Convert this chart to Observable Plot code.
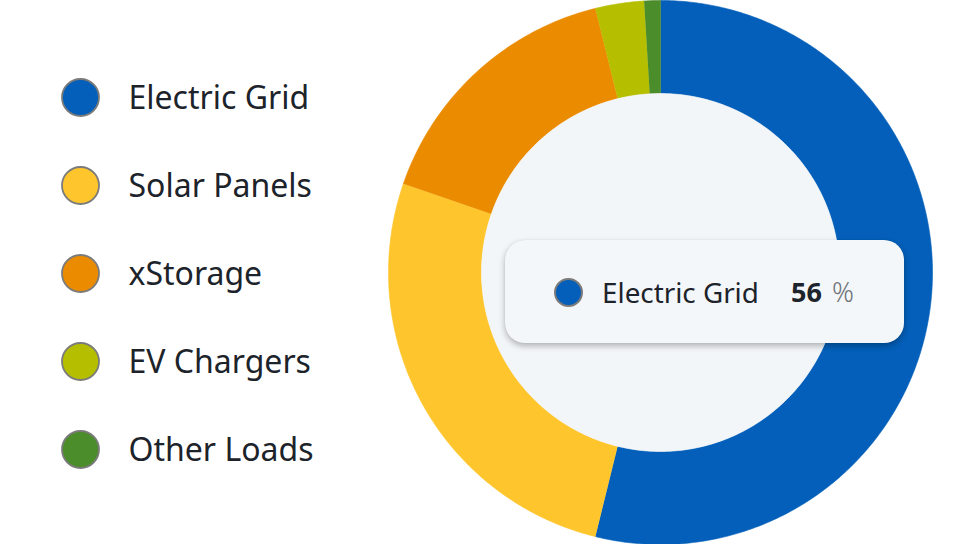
<!DOCTYPE html>
<html>
<head>
<meta charset="utf-8">
<script src="https://cdn.jsdelivr.net/npm/d3@7"></script>
<script src="https://cdn.jsdelivr.net/npm/@observablehq/plot@0.6"></script>
<style>
  html, body { margin: 0; padding: 0; background: #ffffff; }
  body { width: 980px; height: 544px; overflow: hidden; font-family: "Noto Sans", sans-serif; }
  #wrap { position: relative; width: 980px; height: 544px; display: flex; }
  #tip {
    position: absolute; left: 505px; top: 240px; width: 399px; height: 103px;
    box-sizing: border-box; border-radius: 20px; background: #f4f7fa;
    box-shadow: 0 3px 6px rgba(0,0,0,0.28), 0 0 1px rgba(0,0,0,0.12);
    display: flex; align-items: center; font-family: "Noto Sans", sans-serif;
  }
  #tip .dot { width: 29px; height: 29px; border-radius: 50%; border: 2px solid #7b7b7b; box-sizing: border-box; margin-left: 49px; margin-right: 19px; margin-top: 1px; }
  #tip .name { font-size: 27.8px; color: #1d232a; width: 189px; }
  #tip .val { font-size: 27px; font-weight: 700; color: #1d232a; }
  #tip .unit { font-size: 27px; font-weight: 300; color: #6f7377; margin-left: 10px; }
</style>
</head>
<body>
<div id="wrap"></div>
<script>
// ---- data ----
const categories = ["Electric Grid", "Solar Panels", "xStorage", "EV Chargers", "Other Loads"];
const values = [56, 27.5, 16.5, 3, 1];
const colors = ["#035fb9", "#fec52c", "#eb8b00", "#b5bf00", "#4b8c2b"];
const tooltipCategory = "Electric Grid";
const tooltipValue = 56;
const tooltipUnit = "%";

const innerRatio = 0.658;

const rows = categories.map((c, i) => ({category: c, value: values[i]}));
const pie = d3.pie().value(d => d.value).sort(null)(rows);

// annular sector outlines in unit coordinates (angle 0 at top, clockwise)
const ringPts = [];
for (const p of pie) {
  const n = Math.max(8, Math.ceil((p.endAngle - p.startAngle) / 0.01));
  const pts = [];
  for (let k = 0; k <= n; k++) {
    const a = p.startAngle + (p.endAngle - p.startAngle) * k / n;
    pts.push({category: p.data.category, x: Math.sin(a), y: Math.cos(a)});
  }
  for (let k = n; k >= 0; k--) {
    const a = p.startAngle + (p.endAngle - p.startAngle) * k / n;
    pts.push({category: p.data.category, x: innerRatio * Math.sin(a), y: innerRatio * Math.cos(a)});
  }
  ringPts.push(...pts);
}
const holePts = d3.range(0, 361).map(k => {
  const a = k * Math.PI / 180;
  return {x: innerRatio * Math.sin(a), y: innerRatio * Math.cos(a)};
});

const colorScale = {domain: categories, range: colors};

// ---- legend plot ----
const legend = Plot.plot({
  width: 388, height: 544, margin: 0,
  x: {axis: null, domain: [0, 1]},
  y: {axis: null, type: "point", domain: categories, range: [97, 449], padding: 0},
  color: colorScale,
  style: {fontFamily: "Noto Sans", background: "transparent"},
  marks: [
    Plot.dot(categories, {y: d => d, fill: d => d, r: 18.5, stroke: "#7b7b7b", strokeWidth: 1.8, frameAnchor: "left", dx: 80}),
    Plot.text(categories, {y: d => d, text: d => d, frameAnchor: "left", dx: 128, textAnchor: "start", fontSize: 32, fill: "#1d232a", dy: 1})
  ]
});

// ---- donut plot ----
const donut = Plot.plot({
  width: 592, height: 544, margin: 0,
  x: {axis: null, domain: [-1, 1], range: [0, 544]},
  y: {axis: null, domain: [-1, 1], range: [544, 0]},
  color: colorScale,
  style: {background: "transparent"},
  marks: [
    Plot.line(ringPts, {x: "x", y: "y", z: "category", fill: "category", stroke: "category", strokeWidth: 0.6, curve: "linear"}),
    Plot.line(holePts, {x: "x", y: "y", fill: "#f3f6f9", stroke: "#f3f6f9", strokeWidth: 0.6})
  ]
});

const wrap = document.getElementById("wrap");
wrap.appendChild(legend);
wrap.appendChild(donut);

// tooltip
const tip = document.createElement("div");
tip.id = "tip";
const idx = categories.indexOf(tooltipCategory);
tip.innerHTML = `<div class="dot" style="background:${colors[idx]}"></div><div class="name"></div><div class="val"></div><div class="unit"></div>`;
tip.querySelector(".name").textContent = tooltipCategory;
tip.querySelector(".val").textContent = String(tooltipValue);
tip.querySelector(".unit").textContent = tooltipUnit;
wrap.appendChild(tip);
</script>
</body>
</html>
